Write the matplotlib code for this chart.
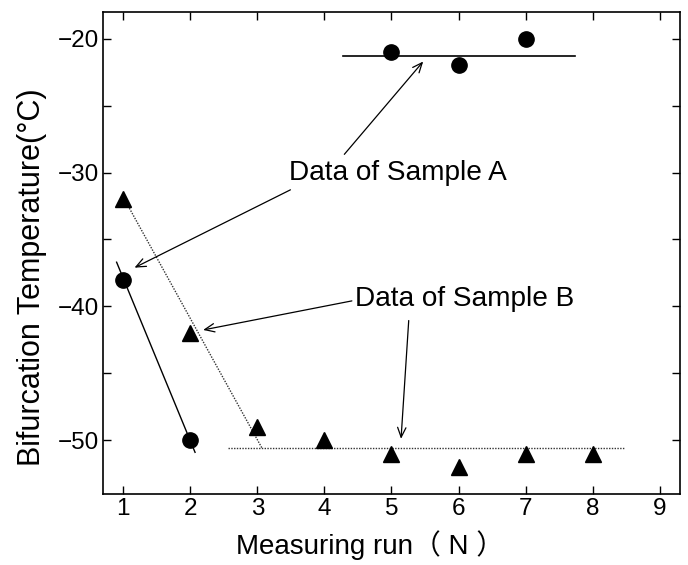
import matplotlib.pyplot as plt
from matplotlib.ticker import MultipleLocator

plt.rcParams['font.family'] = ['Liberation Sans', 'Noto Sans CJK JP', 'DejaVu Sans']

# measured points
run_a = [1, 2, 5, 6, 7]
temp_a = [-38, -50, -21, -22, -20]
run_b = [1, 2, 3, 4, 5, 6, 7, 8]
temp_b = [-32, -42, -49, -50, -51, -52, -51, -51]

# guide lines drawn by hand in the original
a_drop_x = [0.90, 2.07]
a_drop_y = [-36.7, -50.9]
a_flat_x = [4.27, 7.74]
a_flat_y = [-21.3, -21.3]
b_drop_x = [1.05, 3.07]
b_drop_y = [-32.3, -50.6]
b_flat_x = [2.56, 8.48]
b_flat_y = [-50.55, -50.55]

fig = plt.figure(figsize=(6.88, 5.65), dpi=100)
ax = fig.add_axes([0.150, 0.126, 0.838, 0.853])

ax.plot(a_drop_x, a_drop_y, color='black', lw=1.0)
ax.plot(a_flat_x, a_flat_y, color='black', lw=1.2)
ax.plot(b_drop_x, b_drop_y, color='#333333', lw=1.0, ls=(0, (1, 1)))
ax.plot(b_flat_x, b_flat_y, color='#333333', lw=1.0, ls=(0, (1, 1)))

ax.plot(run_a, temp_a, 'o', color='black', ms=11, zorder=3)
ax.plot(run_b, temp_b, '^', color='black', ms=11, zorder=3)

arrow = dict(arrowstyle='->,head_length=0.7,head_width=0.3', color='black', lw=0.9)
ax.text(3.47, -30.05, 'Data of Sample A', fontsize=20.2, va='center', ha='left')
ax.annotate('', xy=(5.5, -21.55), xytext=(4.27, -28.8), arrowprops=arrow)
ax.annotate('', xy=(1.13, -37.2), xytext=(3.53, -31.2), arrowprops=arrow)

ax.text(4.45, -39.45, 'Data of Sample B', fontsize=20.2, va='center', ha='left')
ax.annotate('', xy=(2.15, -41.8), xytext=(4.45, -39.55), arrowprops=arrow)
ax.annotate('', xy=(5.14, -50.1), xytext=(5.26, -40.85), arrowprops=arrow)

ax.set_xlim(0.7, 9.3)
ax.set_ylim(-54, -18)
ax.xaxis.set_major_locator(MultipleLocator(1))
ax.yaxis.set_major_locator(MultipleLocator(10))
ax.yaxis.set_minor_locator(MultipleLocator(5))
ax.tick_params(which='both', direction='in', top=True, right=True,
               length=6, width=1.0, labelsize=17.5, pad=3)
for s in ax.spines.values():
    s.set_linewidth(1.2)

ax.set_xlabel('Measuring run（ N ）', fontsize=20)
ax.set_ylabel('Bifurcation Temperature(°C)', fontsize=22)
ax.xaxis.set_label_coords(0.463, -0.075)
ax.yaxis.set_label_coords(-0.097, 0.45)

fig.savefig('out.png', dpi=100)
